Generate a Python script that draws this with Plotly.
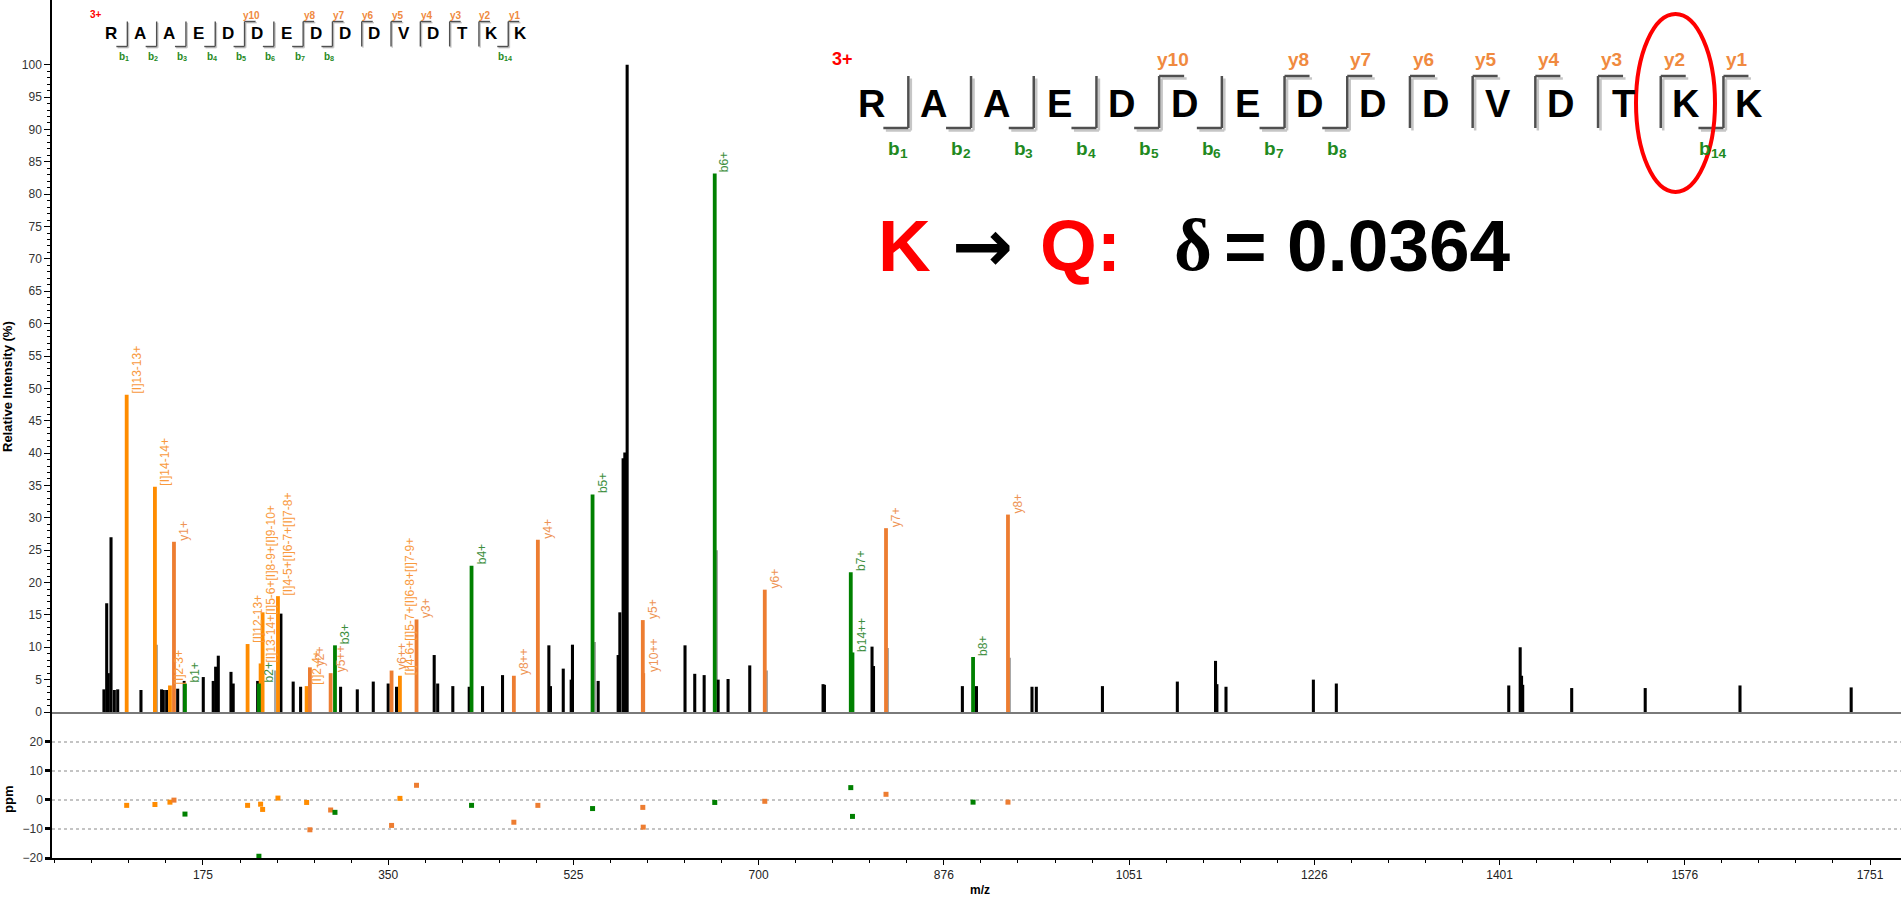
import plotly.graph_objects as go

# ---------------- spectrum data ----------------
# unassigned peaks (m/z, relative intensity %)
peak_mz = [81.5, 84.1, 85.6, 88.2, 91.3, 94.5, 116.5, 136.0, 137.6, 140.8, 151.2, 157.4,
           175.4, 184.8, 187.1, 189.6, 201.6, 203.7, 226.8, 248.8, 260.4, 267.4, 305.2, 321.0,
           336.1, 350.2, 358.1, 393.7, 397.0, 411.3, 426.8, 439.4, 458.3, 502.1, 503.6, 515.7,
           523.2, 524.4, 548.7, 567.6, 569.2, 572.3, 573.9, 576.1, 630.8, 640.0, 648.9, 662.1,
           671.5, 692.0, 761.3, 762.6, 807.6, 809.0, 893.0, 906.3, 958.8, 962.9, 1025.4, 1096.2,
           1132.3, 1133.6, 1142.2, 1224.8, 1246.5, 1409.5, 1420.3, 1421.6, 1422.7, 1469.0, 1538.5,
           1628.1, 1733.2]
peak_int = [3.5, 16.8, 6.0, 27.0, 3.4, 3.5, 3.4, 3.5, 3.4, 3.4, 3.6, 4.8,
            5.4, 4.8, 7.0, 8.7, 6.2, 4.4, 4.8, 15.2, 4.7, 3.9, 3.9, 3.5,
            4.7, 4.4, 3.9, 8.8, 4.4, 4.0, 3.9, 4.0, 5.7, 10.3, 4.0, 6.7,
            5.0, 10.4, 4.8, 8.8, 15.4, 39.2, 40.1, 100.0, 10.3, 5.9, 5.7, 5.0,
            5.1, 7.2, 4.3, 4.2, 10.1, 7.1, 4.0, 4.0, 3.9, 3.9, 4.0, 4.7,
            7.9, 4.3, 3.9, 5.0, 4.4, 4.1, 10.0, 5.6, 4.2, 3.7, 3.7,
            4.1, 3.8]

# weak shoulder peaks next to annotated ions
shoulder_mz = [131.9, 243.1, 545.5, 661.0, 708.7, 822.7, 938.4]
shoulder_int = [10.4, 6.4, 10.8, 25.0, 6.4, 9.9, 8.4]

# annotated fragment ions: b = b-ion, y = y-ion, i = internal fragment
ion_mz = [103.0, 129.7, 143.9, 147.7, 158.1, 217.3, 228.0, 229.6, 231.5, 246.0,
          273.1, 276.2, 295.8, 299.9, 353.4, 361.3, 377.0, 429.0, 469.0, 491.7,
          543.4, 590.9, 591.3, 658.9, 706.2, 787.5, 789.1, 820.8, 903.1, 936.1]
ion_int = [49.0, 34.8, 4.1, 26.3, 4.4, 10.5, 4.4, 7.5, 15.4, 17.9,
           4.0, 6.9, 6.0, 10.3, 6.4, 5.6, 14.3, 22.6, 5.6, 26.6,
           33.6, 14.2, 6.0, 83.2, 18.9, 21.6, 9.2, 28.4, 8.5, 30.5]
ion_kind = ["i", "i", "i", "y", "b", "i", "b", "i", "i", "i",
            "i", "y", "y", "b", "y", "i", "y", "b", "y", "y",
            "b", "y", "y", "b", "y", "b", "b", "y", "b", "y"]
ion_label = ["[I]13-13+", "[I]14-14+", "[I]2-3+", "y1+", "b1+", "[I]12-13+", "b2+",
             "[I]13-14+[I]5-6+[I]8-9+[I]9-10+", "", "[I]4-5+[I]6-7+[I]7-8+",
             "[I]2-4+", "y2+", "y5++", "b3+", "y6++", "[I]4-6+[I]5-7+[I]6-8+[I]7-9+",
             "y3+", "b4+", "y8++", "y4+", "b5+", "y5+", "y10++", "b6+", "y6+",
             "b7+", "b14++", "y7+", "b8+", "y8+"]
ion_ppm = [-1.9, -1.6, -0.8, -0.1, -4.9, -1.9, -19.4, -1.5, -3.3, 0.6,
           -0.9, -10.3, -3.5, -4.3, -8.8, 0.5, 5.0, -1.9, -7.7, -1.9,
           -3.0, -2.6, -9.4, -0.9, -0.5, 4.2, -5.7, 1.9, -0.8, -0.8]

# axis ticks
mz_tick_vals = [175.1, 350.2, 525.3, 700.4, 875.5, 1050.6, 1225.7, 1400.8, 1575.9, 1751.0]
mz_tick_text = ["175", "350", "525", "700", "876", "1051", "1226", "1401", "1576", "1751"]
int_tick_vals = list(range(0, 101, 5))
ppm_tick_vals = [-20, -10, 0, 10, 20]

# peptide sequence and fragment coverage
peptide = "RAAEDDEDDDVDTKK"
b_sites = [1, 2, 3, 4, 5, 6, 7, 8, 14]
y_sites = [10, 8, 7, 6, 5, 4, 3, 2, 1]
precursor_charge = "3+"
substitution = ["K", "→", "Q:", "δ", "= 0.0364"]

# ---------------- page geometry ----------------
W, H = 1901, 900
ML, MR, MT, MB = 52, 0, 0, 42
PW, PH = W - ML - MR, H - MT - MB
SPLIT = (PH - 712) / PH          # top of the ppm panel


def px(x):
    return (x - ML) / PW


def py(y):
    return (PH + MT - y) / PH


COL = {"b": "#008000", "y": "#ED7D31", "i": "#FF8C00"}
LCOL = {"b": "#3F8F3F", "y": "#EE9455", "i": "#F99A3E"}
SANS = "Liberation Sans"

fig = go.Figure()

# ---------------- spectrum bars ----------------
fig.add_trace(go.Bar(x=shoulder_mz, y=shoulder_int, width=1.1,
                     marker=dict(color="#a8a8a8", line_width=0), xaxis="x", yaxis="y"))
fig.add_trace(go.Bar(x=peak_mz, y=peak_int, width=2.9,
                     marker=dict(color="black", line_width=0), xaxis="x", yaxis="y"))
for kind in ["i", "y", "b"]:
    xs = [m for m, k in zip(ion_mz, ion_kind) if k == kind]
    ys = [v for v, k in zip(ion_int, ion_kind) if k == kind]
    fig.add_trace(go.Bar(x=xs, y=ys, width=3.6,
                         marker=dict(color=COL[kind], line_width=0), xaxis="x", yaxis="y"))

# ---------------- mass error panel ----------------
for kind in ["i", "y", "b"]:
    xs = [m for m, k in zip(ion_mz, ion_kind) if k == kind]
    ys = [v for v, k in zip(ion_ppm, ion_kind) if k == kind]
    fig.add_trace(go.Scatter(x=xs, y=ys, mode="markers", xaxis="x2", yaxis="y2",
                             marker=dict(symbol="square", size=5, color=COL[kind],
                                         line_width=0)))

annotations = []
shapes = []

# ion labels, rotated above each bar
for m, v, k, lab in zip(ion_mz, ion_int, ion_kind, ion_label):
    if not lab:
        continue
    annotations.append(dict(x=m, y=v, xref="x", yref="y", text=lab, showarrow=False,
                            textangle=-90, xanchor="left", yanchor="bottom",
                            xshift=2, borderpad=0,
                            font=dict(family=SANS, size=12, color=LCOL[k])))


def page_text(x, y, text, size, color, family=SANS, xanchor="center", bold=True):
    annotations.append(dict(x=px(x), y=py(y), xref="paper", yref="paper", text=text,
                            showarrow=False, xanchor=xanchor, yanchor="middle",
                            font=dict(family=family, size=size, color=color,
                                      weight="bold" if bold else "normal")))


# ---------------- sequence coverage graphics ----------------
def add_sequence(x0, step, yc, size, top, bottom, offset, hook, ylab_y, blab_y,
                 lab_size, charge_xy, charge_size, lw, shadow):
    n = len(peptide)
    green, orange = "#1F8A1F", "#F08A40"
    sub_size = lab_size * 0.72
    for i, aa in enumerate(peptide):
        page_text(x0 + i * step, yc, aa, size, "black")
    for k in range(1, n):
        xv = x0 + (k - 1) * step + step / 2 + offset
        has_b = k in b_sites
        has_y = (n - k) in y_sites
        if not (has_b or has_y):
            continue
        segs = [(xv, top, xv, bottom)]
        if has_b:
            segs.append((xv - hook, bottom, xv, bottom))
            # "b" with a subscript index, centred under the hook
            wb = 0.61 * lab_size
            wd = 0.56 * sub_size * len(str(k))
            left = xv - hook / 2 - (wb + wd) / 2
            page_text(left, blab_y, "b", lab_size, green, xanchor="left")
            page_text(left + wb, blab_y + lab_size * 0.22, str(k), sub_size, green,
                      xanchor="left")
        if has_y:
            segs.append((xv, top, xv + hook, top))
            page_text(xv + hook / 2 + 1, ylab_y, "y%d" % (n - k), lab_size, orange)
        for (xa, ya, xb, yb) in segs:
            shapes.append(dict(type="line", xref="paper", yref="paper",
                               x0=px(xa + shadow), y0=py(ya + shadow),
                               x1=px(xb + shadow), y1=py(yb + shadow),
                               line=dict(color="#c6c6c6", width=lw)))
            shapes.append(dict(type="line", xref="paper", yref="paper",
                               x0=px(xa), y0=py(ya), x1=px(xb), y1=py(yb),
                               line=dict(color="#505050", width=lw)))
    page_text(charge_xy[0], charge_xy[1], precursor_charge, charge_size, "red")


# small header sequence
add_sequence(x0=110.7, step=29.3, yc=34, size=17, top=21.5, bottom=46.5, offset=2,
             hook=11, ylab_y=15, blab_y=56, lab_size=10, charge_xy=(96, 14),
             charge_size=10, lw=1.4, shadow=1.2)
# large sequence
add_sequence(x0=871, step=62.7, yc=104, size=38, top=76, bottom=128, offset=6,
             hook=25, ylab_y=60, blab_y=149, lab_size=19, charge_xy=(842, 59),
             charge_size=18, lw=2.5, shadow=2.5)

# highlight of the substituted residue
shapes.append(dict(type="circle", xref="paper", yref="paper",
                   x0=px(1636), x1=px(1715), y0=py(192), y1=py(14),
                   line=dict(color="red", width=4)))

# substitution statement
sub_left = [876, 950, 1038, 1172, 1222]
sub_col = ["red", "black", "red", "black", "black"]
sub_font = [SANS, "DejaVu Sans", SANS, "Liberation Serif", SANS]
for txt, xl, c, f in zip(substitution, sub_left, sub_col, sub_font):
    page_text(xl, 245, txt, 73, c, family=f, xanchor="left")

# axis titles
annotations.append(dict(x=px(7), y=py(387), xref="paper", yref="paper",
                        text="Relative Intensity (%)", showarrow=False, textangle=-90,
                        xanchor="center", yanchor="middle",
                        font=dict(family=SANS, size=13, color="black", weight="bold")))
annotations.append(dict(x=px(8), y=py(800), xref="paper", yref="paper", text="ppm",
                        showarrow=False, textangle=-90, xanchor="center", yanchor="middle",
                        font=dict(family=SANS, size=13, color="black", weight="bold")))
page_text(980, 890, "m/z", 12, "black")

x_range = [32.4, 1780.3]
fig.update_layout(
    width=W, height=H,
    margin=dict(l=ML, r=MR, t=MT, b=MB),
    paper_bgcolor="white", plot_bgcolor="white",
    barmode="overlay", showlegend=False,
    xaxis=dict(domain=[0, 1], range=x_range, anchor="y", showline=True,
               linecolor="#7a7a7a", linewidth=2, showticklabels=False, ticks="",
               showgrid=False, zeroline=False),
    xaxis2=dict(domain=[0, 1], range=x_range, anchor="y2", matches="x", showline=True,
                linecolor="black", linewidth=2, ticks="outside", ticklen=5, tickwidth=1.2,
                tickcolor="black", tickmode="array", tickvals=mz_tick_vals,
                ticktext=mz_tick_text, showgrid=False, zeroline=False,
                tickfont=dict(family=SANS, size=12, color="#222"),
                minor=dict(tickmode="linear", tick0=0, dtick=35.02, ticks="outside",
                           ticklen=3, tickcolor="black", showgrid=False)),
    yaxis=dict(domain=[SPLIT, 1], range=[0, 110], anchor="x", showline=True,
               linecolor="black", linewidth=1.5, ticks="outside", ticklen=6, tickwidth=1.2,
               tickcolor="black", tickmode="array", tickvals=int_tick_vals,
               showgrid=False, zeroline=False,
               tickfont=dict(family=SANS, size=12, color="#333"),
               minor=dict(tickmode="array", tickvals=list(range(0, 101)), ticks="outside",
                          ticklen=3, tickcolor="black", showgrid=False)),
    yaxis2=dict(domain=[0, SPLIT], range=[-20, 30.2], anchor="x2", showline=True,
                linecolor="black", linewidth=1.5, ticks="outside", ticklen=5, tickwidth=2.5,
                tickcolor="black", tickmode="array", tickvals=ppm_tick_vals,
                showgrid=True, gridcolor="#c4c4c4", griddash="dot", gridwidth=2,
                zeroline=False, tickfont=dict(family=SANS, size=12, color="#333")),
    annotations=annotations,
    shapes=shapes,
)

fig.write_html("out.html")
